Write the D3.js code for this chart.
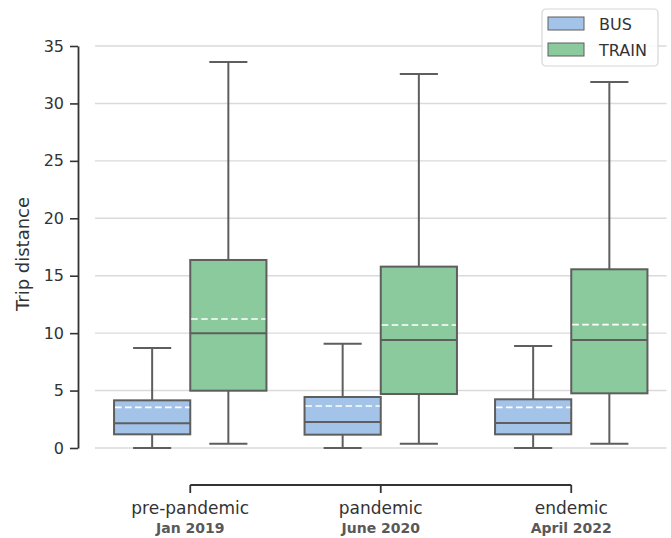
<!DOCTYPE html>
<html>
<head>
<meta charset="utf-8">
<script src="https://cdn.jsdelivr.net/npm/d3@7"></script>
<style>
  html, body { margin: 0; padding: 0; background: #fff; }
  svg { display: block; font-family: "DejaVu Sans", sans-serif; }
</style>
</head>
<body>
<svg id="chart" width="671" height="538"></svg>
<script>
const categories = ["pre-pandemic", "pandemic", "endemic"];
const subLabels = ["Jan 2019", "June 2020", "April 2022"];
const series = ["BUS", "TRAIN"];
const yTicks = [0, 5, 10, 15, 20, 25, 30, 35];

const busMin    = [0.0, 0.0, 0.0];
const busQ1     = [1.19, 1.16, 1.19];
const busMedian = [2.15, 2.26, 2.18];
const busMean   = [3.54, 3.66, 3.54];
const busQ3     = [4.15, 4.44, 4.24];
const busMax    = [8.71, 9.08, 8.88];

const trainMin    = [0.37, 0.37, 0.37];
const trainQ1     = [4.99, 4.70, 4.76];
const trainMedian = [9.99, 9.40, 9.40];
const trainMean   = [11.23, 10.71, 10.74];
const trainQ3     = [16.37, 15.79, 15.56];
const trainMax    = [33.61, 32.56, 31.87];

const colors = { BUS: "#a4c3e8", TRAIN: "#8bca9c" };
const edge = "#5e5e5e";

const stats = {
  BUS: categories.map((c, i) => ({ cat: c, min: busMin[i], q1: busQ1[i], med: busMedian[i], mean: busMean[i], q3: busQ3[i], max: busMax[i] })),
  TRAIN: categories.map((c, i) => ({ cat: c, min: trainMin[i], q1: trainQ1[i], med: trainMedian[i], mean: trainMean[i], q3: trainQ3[i], max: trainMax[i] }))
};

const svg = d3.select("#chart");
const plotLeft = 95, plotRight = 666.5, yTop = 46, yBottom = 448;

const x = d3.scaleBand().domain(categories).range([plotLeft, plotRight]).padding(0);
const xHue = d3.scaleBand().domain(series).range([0, x.bandwidth() * 0.8]).padding(0);
const y = d3.scaleLinear().domain([0, 35]).range([yBottom, yTop]);

// gridlines
svg.append("g").selectAll("line").data(yTicks).join("line")
  .attr("x1", plotLeft).attr("x2", plotRight)
  .attr("y1", d => y(d)).attr("y2", d => y(d))
  .attr("stroke", "#dadada").attr("stroke-width", 1.4);

// y axis (offset spine)
const yAxis = d3.axisLeft(y).tickValues(yTicks).tickSize(8).tickPadding(6).tickSizeOuter(0);
const yG = svg.append("g").attr("transform", "translate(78,0)").call(yAxis);
yG.select(".domain").attr("stroke", "#333").attr("stroke-width", 1.8);
yG.selectAll(".tick line").attr("stroke", "#333").attr("stroke-width", 1.6);
yG.selectAll(".tick text").attr("fill", "#333").style("font-size", "16px").attr("font-family", "DejaVu Sans");

svg.append("text")
  .attr("transform", `translate(29,${(yTop + yBottom) / 2 + 7}) rotate(-90)`)
  .attr("text-anchor", "middle").attr("fill", "#333")
  .style("font-size", "18px").text("Trip distance");

// boxes
const boxW = xHue.bandwidth();
const lw = 2;
series.forEach(s => {
  const g = svg.append("g");
  const groups = g.selectAll("g").data(stats[s]).join("g")
    .attr("transform", d => `translate(${x(d.cat) + x.bandwidth() * 0.1 + xHue(s)},0)`);
  const cx = boxW / 2;
  // whiskers
  groups.append("line").attr("x1", cx).attr("x2", cx)
    .attr("y1", d => y(d.q3)).attr("y2", d => y(d.max))
    .attr("stroke", edge).attr("stroke-width", lw);
  groups.append("line").attr("x1", cx).attr("x2", cx)
    .attr("y1", d => y(d.q1)).attr("y2", d => y(d.min))
    .attr("stroke", edge).attr("stroke-width", lw);
  // caps
  groups.append("line").attr("x1", cx - boxW / 4).attr("x2", cx + boxW / 4)
    .attr("y1", d => y(d.max)).attr("y2", d => y(d.max))
    .attr("stroke", edge).attr("stroke-width", lw);
  groups.append("line").attr("x1", cx - boxW / 4).attr("x2", cx + boxW / 4)
    .attr("y1", d => y(d.min)).attr("y2", d => y(d.min))
    .attr("stroke", edge).attr("stroke-width", lw);
  // box
  groups.append("rect").attr("x", 0).attr("width", boxW)
    .attr("y", d => y(d.q3)).attr("height", d => y(d.q1) - y(d.q3))
    .attr("fill", colors[s]).attr("stroke", edge).attr("stroke-width", lw);
  // median
  groups.append("line").attr("x1", 0).attr("x2", boxW)
    .attr("y1", d => y(d.med)).attr("y2", d => y(d.med))
    .attr("stroke", edge).attr("stroke-width", lw);
  // mean
  groups.append("line").attr("x1", 1).attr("x2", boxW - 1)
    .attr("y1", d => y(d.mean)).attr("y2", d => y(d.mean))
    .attr("stroke", "#ffffff").attr("stroke-width", 1.6)
    .attr("stroke-dasharray", "6.5,3.5");
});

// secondary category axis (bracket)
const bracketY = 485;
const centers = categories.map(c => x(c) + x.bandwidth() / 2);
svg.append("line").attr("x1", centers[0]).attr("x2", centers[centers.length - 1])
  .attr("y1", bracketY).attr("y2", bracketY).attr("stroke", "#333").attr("stroke-width", 1.8);
svg.append("g").selectAll("line").data(categories).join("line")
  .attr("x1", d => x(d) + x.bandwidth() / 2).attr("x2", d => x(d) + x.bandwidth() / 2)
  .attr("y1", bracketY).attr("y2", bracketY + 8)
  .attr("stroke", "#333").attr("stroke-width", 1.8);
svg.append("g").selectAll("text").data(categories).join("text")
  .attr("x", d => x(d) + x.bandwidth() / 2).attr("y", 514)
  .attr("text-anchor", "middle").attr("fill", "#333").style("font-size", "17px")
  .text(d => d);
svg.append("g").selectAll("text").data(subLabels).join("text")
  .attr("x", (d, i) => x(categories[i]) + x.bandwidth() / 2).attr("y", 533)
  .attr("text-anchor", "middle").attr("fill", "#595959").style("font-size", "14px")
  .style("font-weight", "bold").text(d => d);

// legend
const lg = svg.append("g").attr("transform", "translate(542,9)");
lg.append("rect").attr("width", 116).attr("height", 57).attr("rx", 4)
  .attr("fill", "#fff").attr("fill-opacity", 0.85).attr("stroke", "#d6d6d6").attr("stroke-width", 1.2);
const items = lg.selectAll("g").data(series).join("g")
  .attr("transform", (d, i) => `translate(6,${8 + i * 26})`);
items.append("rect").attr("width", 36).attr("height", 13)
  .attr("fill", d => colors[d]).attr("stroke", edge).attr("stroke-width", 1);
items.append("text").attr("x", 51).attr("y", 13).attr("fill", "#333")
  .style("font-size", "16px").text(d => d);
</script>
</body>
</html>
